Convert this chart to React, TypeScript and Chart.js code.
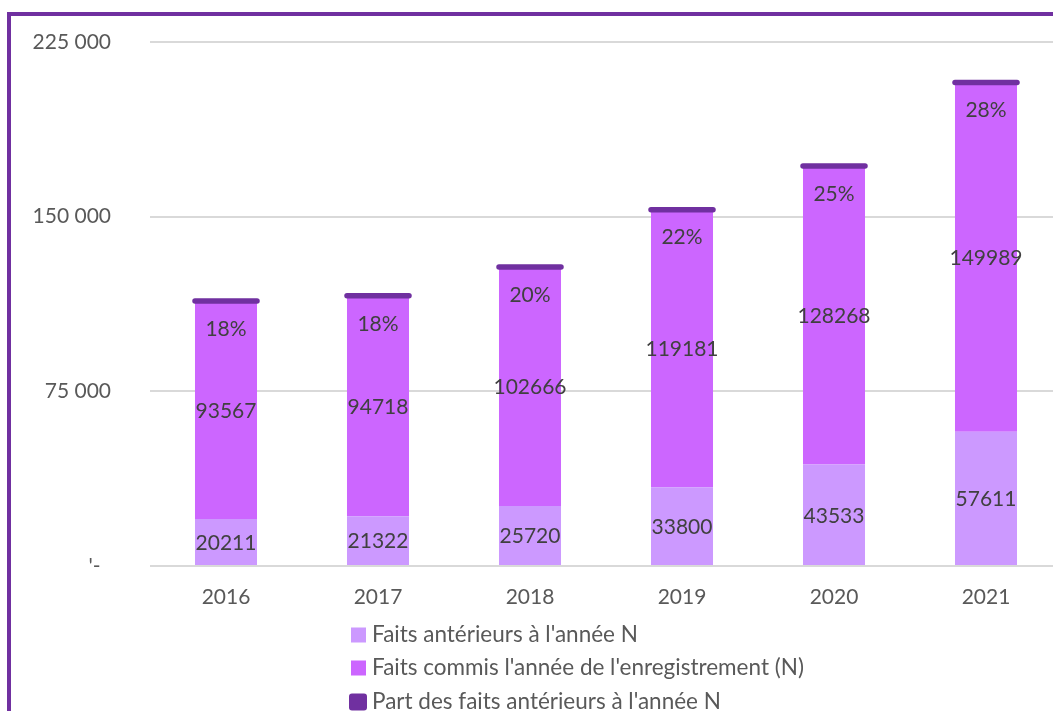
import React, { useEffect, useRef } from "react";
import { Chart, registerables } from "chart.js";

Chart.register(...registerables);

const categories = ["2016", "2017", "2018", "2019", "2020", "2021"];
const anterieurs = [20211, 21322, 25720, 33800, 43533, 57611];
const commis = [93567, 94718, 102666, 119181, 128268, 149989];
const partPct = [18, 18, 20, 22, 25, 28];
const yTicks = [0, 75000, 150000, 225000];
const seriesNames = [
  "Faits antérieurs à l'année N",
  "Faits commis l'année de l'enregistrement (N)",
  "Part des faits antérieurs à l'année N",
];
const colors = ["#CC99FF", "#CC66FF", "#7030A0"];

const FONT = "Lato, 'Noto Sans', sans-serif";
const FS = 21;
const LEGEND_FS = 22.5;

function fmtTick(v: number): string {
  if (v === 0) return "'-\u2002";
  return String(v).replace(/\B(?=(\d{3})+(?!\d))/g, " ");
}

export default function App() {
  const ref = useRef<HTMLCanvasElement | null>(null);

  useEffect(() => {
    document.body.style.overflow = "hidden";
    const canvas = ref.current;
    if (!canvas) return;
    const totals = anterieurs.map((v, i) => v + commis[i]);

    const labelPlugin = {
      id: "labels",
      beforeDatasetDraw(chart: any, args: any) {
        if (args.index === 2) chart.ctx.lineCap = "round";
      },
      afterDatasetDraw(chart: any, args: any) {
        if (args.index === 2) chart.ctx.lineCap = "butt";
      },
      afterDatasetsDraw(chart: any) {
        const ctx = chart.ctx;
        ctx.save();
        ctx.font = `${FS}px ${FONT}`;
        ctx.fillStyle = "#404040";
        ctx.textAlign = "center";
        ctx.textBaseline = "middle";
        [0, 1].forEach((di) => {
          const meta = chart.getDatasetMeta(di);
          const values = di === 0 ? anterieurs : commis;
          meta.data.forEach((bar: any, i: number) => {
            ctx.fillText(String(values[i]), bar.x, (bar.y + bar.base) / 2 + 1);
          });
        });
        const meta2 = chart.getDatasetMeta(2);
        meta2.data.forEach((pt: any, i: number) => {
          ctx.fillText(partPct[i] + "%", pt.x, pt.y + 28);
        });
        ctx.restore();
      },
      afterDraw(chart: any) {
        const ctx = chart.ctx;
        ctx.save();
        ctx.font = `${LEGEND_FS}px ${FONT}`;
        ctx.textBaseline = "middle";
        ctx.textAlign = "left";
        const ys = [635, 668, 702];
        seriesNames.forEach((name, i) => {
          ctx.fillStyle = colors[i];
          if (i === 2) {
            ctx.beginPath();
            (ctx as any).roundRect(349, ys[i] - 8.5, 18, 17, 3);
            ctx.fill();
          } else {
            ctx.fillRect(351, ys[i] - 7.5, 15, 15);
          }
          ctx.fillStyle = "#595959";
          ctx.fillText(name, 372, ys[i]);
        });
        ctx.restore();
      },
    };

    const chart = new Chart(canvas, {
      type: "bar",
      data: {
        labels: categories,
        datasets: [
          {
            label: seriesNames[0],
            data: anterieurs,
            backgroundColor: colors[0],
            stack: "s",
            barPercentage: 0.408,
            categoryPercentage: 1,
          },
          {
            label: seriesNames[1],
            data: commis,
            backgroundColor: colors[1],
            stack: "s",
            barPercentage: 0.408,
            categoryPercentage: 1,
          },
          {
            type: "line",
            label: seriesNames[2],
            data: totals,
            stack: "cap",
            order: -1,
            showLine: false,
            pointStyle: "line",
            pointRadius: 31,
            pointHoverRadius: 31,
            pointBorderWidth: 5.5,
            pointBorderColor: colors[2],
            pointBackgroundColor: colors[2],
            borderColor: colors[2],
            backgroundColor: colors[2],
            clip: false,
          } as any,
        ],
      },
      options: {
        responsive: false,
        animation: false,
        events: [],
        layout: {
          autoPadding: false,
          padding: { top: 42, left: 0, right: 0, bottom: 0 },
        },
        plugins: {
          legend: { display: false },
          tooltip: { enabled: false },
        },
        scales: {
          x: {
            stacked: true,
            grid: { display: false, drawTicks: false },
            border: { display: false },
            ticks: {
              color: "#595959",
              font: { family: FONT, size: FS },
              padding: 19,
            },
            afterFit(scale: any) {
              scale.height = 711 - 566;
            },
          },
          y: {
            stacked: true,
            min: 0,
            max: 225000,
            grid: { color: "#D9D9D9", lineWidth: 2, drawTicks: false },
            border: { display: false },
            ticks: {
              color: "#595959",
              font: { family: FONT, size: FS },
              padding: 39,
              callback: (v: any) => fmtTick(Number(v)),
            },
            afterBuildTicks(scale: any) {
              scale.ticks = yTicks.map((v) => ({ value: v }));
            },
            afterFit(scale: any) {
              scale.width = 150;
              scale.paddingTop = 12;
              scale.paddingBottom = 12;
            },
          },
        },
      },
      plugins: [labelPlugin],
    });
    return () => chart.destroy();
  }, []);

  return (
    <div
      style={{
        position: "fixed",
        left: 0,
        top: 0,
        width: 1053,
        height: 711,
        overflow: "hidden",
        background: "#ffffff",
      }}
    >
      <div
        style={{
          position: "absolute",
          left: 7,
          top: 12,
          width: 1200,
          height: 900,
          borderLeft: "4px solid #7030A0",
          borderTop: "4px solid #7030A0",
        }}
      />
      <canvas
        ref={ref}
        width={1062}
        height={711}
        style={{ position: "absolute", left: 0, top: 0, width: 1062, height: 711 }}
      />
    </div>
  );
}
